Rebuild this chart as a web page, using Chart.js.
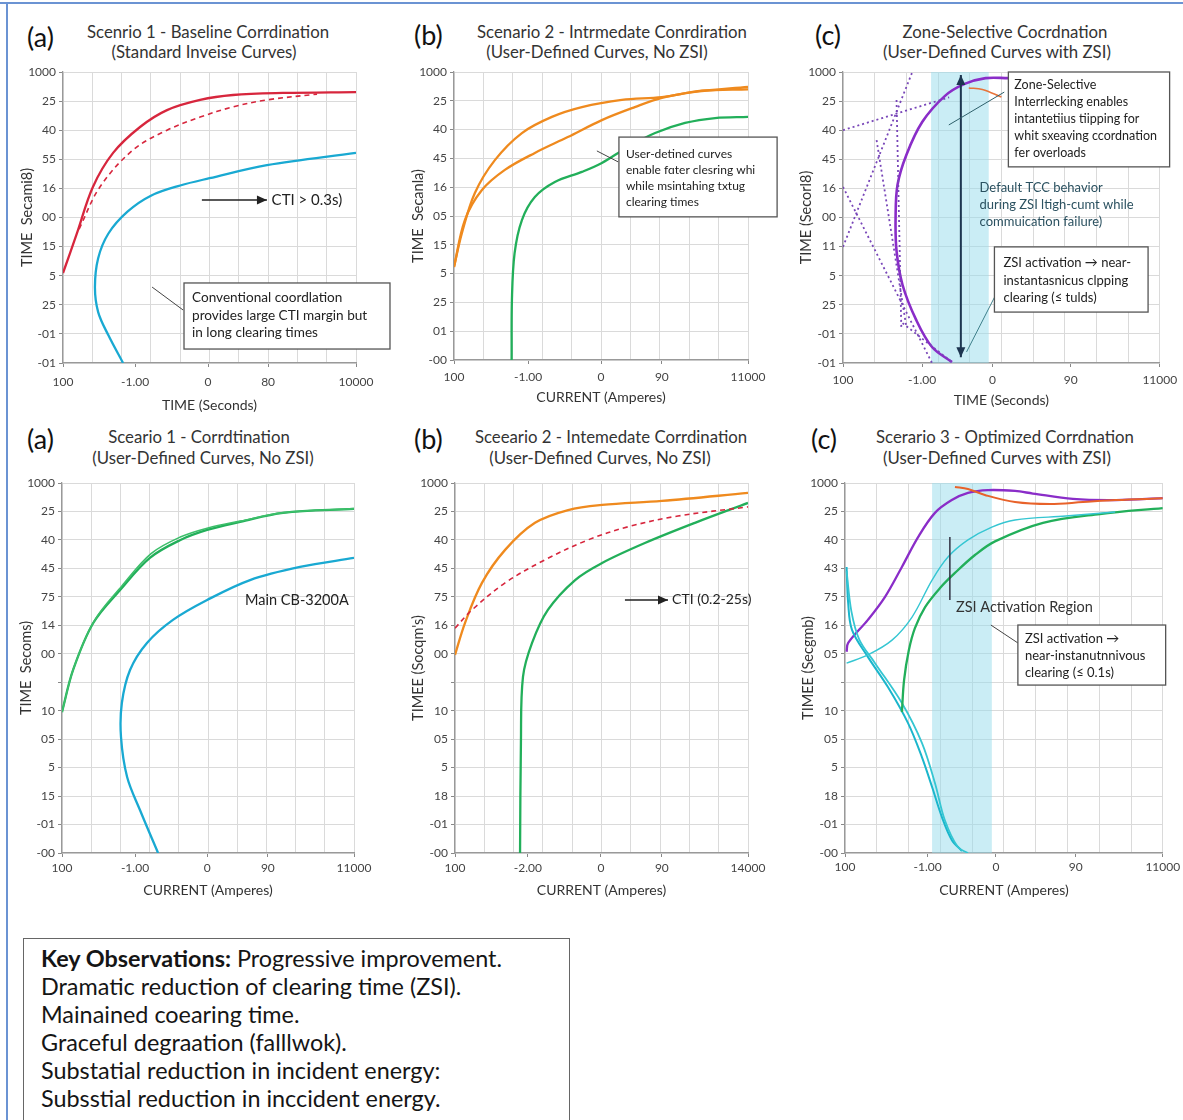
<!DOCTYPE html>
<html lang="en">
<head>
  <meta charset="UTF-8">
  <title>TCC coordination scenarios</title>
  <script src="https://cdn.jsdelivr.net/npm/chart.js"></script>
  <style>
    body { margin: 0; background: #fff; font-family: Lato, sans-serif; }
    #page { position: relative; width: 1183px; height: 1120px; overflow: hidden; background: #fff; }
    #page canvas { position: absolute; }
    .frame-top { position: absolute; left: 0; top: 2px; width: 1183px; height: 2px; background: #6b93d3; }
    .frame-left { position: absolute; left: 6px; top: 2px; width: 2px; height: 1118px; background: #6b93d3; }
    .tag { position: absolute; font-size: 27px; line-height: 30px; color: #111; }
    .ttl { position: absolute; width: 400px; height: 20px; line-height: 20px; text-align: center; font-size: 16.8px; color: #333; white-space: nowrap; }
    .keys { position: absolute; left: 23px; top: 938px; width: 528px; height: 220px; border: 1.5px solid #666;
            padding: 5px 0 0 17px; font-size: 23.4px; line-height: 28px; color: #151515; }
  </style>
</head>
<body>
<div id="page">
  <div class="frame-top"></div>
  <div class="frame-left"></div>

  <div class="tag" style="left:27px; top:22px">(a)</div>
  <div class="ttl" style="left:8px; top:22px">Scenrio 1 - Baseline Corrdination</div>
  <div class="ttl" style="left:4px; top:42px">(Standard Inveise Curves)</div>

  <div class="tag" style="left:414px; top:20px">(b)</div>
  <div class="ttl" style="left:412px; top:22px">Scenario 2 - Intrmedate Conrdiration</div>
  <div class="ttl" style="left:397px; top:42px">(User-Defined Curves, No ZSI)</div>

  <div class="tag" style="left:815px; top:20px">(c)</div>
  <div class="ttl" style="left:805px; top:22px">Zone-Selective Cocrdnation</div>
  <div class="ttl" style="left:797px; top:42px">(User-Defined Curves with ZSI)</div>

  <div class="tag" style="left:27px; top:424px">(a)</div>
  <div class="ttl" style="left:-1px; top:427px">Sceario 1 - Corrdtination</div>
  <div class="ttl" style="left:3px; top:448px">(User-Defined Curves, No ZSI)</div>

  <div class="tag" style="left:414px; top:424px">(b)</div>
  <div class="ttl" style="left:411px; top:427px">Sceeario 2 - Intemedate Corrdination</div>
  <div class="ttl" style="left:400px; top:448px">(User-Defined Curves, No ZSI)</div>

  <div class="tag" style="left:811px; top:424px">(c)</div>
  <div class="ttl" style="left:805px; top:427px">Scerario 3 - Optimized Corrdnation</div>
  <div class="ttl" style="left:797px; top:448px">(User-Defined Curves with ZSI)</div>

  <div class="keys">
    <b>Key Observations:</b> Progressive improvement.<br>
    Dramatic reduction of clearing time (ZSI).<br>
    Mainained coearing time.<br>
    Graceful degraation (falllwok).<br>
    Substatial reduction in incident energy:<br>
    Subsstial reduction in inccident energy.
  </div>
</div>

<script>
// values are in grid units: x runs 0..10 across the plot, y counts gridlines from the bottom

// (a) top - baseline coordination
const a1XTicks = [0, 2.46, 4.95, 7.0, 10];
const a1XLabels = ['100', '-1.00', '0', '80', '10000'];
const a1YLabels = ['1000', '25', '40', '55', '16', '00', '15', '5', '25', '-01', '-01'];
const a1Red = [[0, 3.09], [0.48, 4.47], [1.02, 6.05], [1.71, 7.22], [2.63, 8.11], [3.55, 8.69], [4.68, 9.04], [5.8, 9.21], [7.5, 9.28], [10, 9.31]];
const a1RedDash = [[0.55, 4.6], [1.26, 6.05], [2.39, 7.32], [3.55, 8.0], [4.68, 8.45], [5.8, 8.8], [6.96, 9.04], [8.67, 9.24]];
const a1Cyan = [[2.05, 0], [1.55, 0.95], [1.2, 1.75], [1.09, 2.6], [1.2, 3.6], [1.55, 4.45], [2.2, 5.2], [3.0, 5.75], [4.0, 6.1], [5.0, 6.35], [6.96, 6.8], [10, 7.22]];

// (b) top - intermediate coordination
const b1XTicks = [0, 2.52, 5.0, 7.07, 10];
const b1XLabels = ['100', '-1.00', '0', '90', '11000'];
const b1YLabels = ['1000', '25', '40', '45', '16', '05', '15', '5', '25', '01', '-00'];
const b1Orange1 = [[0, 3.23], [0.27, 4.41], [0.71, 5.8], [1.39, 6.94], [2.31, 7.88], [3.33, 8.44], [4.35, 8.78], [5.71, 9.03], [7.07, 9.13], [8.43, 9.35], [10, 9.4]];
const b1Orange2 = [[0, 3.23], [0.37, 4.86], [0.95, 5.9], [1.73, 6.6], [2.75, 7.19], [3.87, 7.74], [5.03, 8.33], [6.15, 8.78], [7.07, 9.1], [8.19, 9.31], [10, 9.48]];
const b1Green = [[1.96, 0], [1.97, 2.08], [2.06, 3.7], [2.31, 4.86], [2.75, 5.66], [3.43, 6.18], [4.35, 6.53], [5.03, 6.84], [5.92, 7.4], [6.84, 7.88], [7.86, 8.23], [8.88, 8.4], [10, 8.44]];

// (c) top - zone-selective coordination
const c1XTicks = [0, 2.5, 4.72, 7.19, 10];
const c1XLabels = ['100', '-1.00', '0', '90', '11000'];
const c1YLabels = ['1000', '25', '40', '45', '16', '00', '11', '5', '25', '-01', '-01'];
const c1Band = [2.78, 4.6];
const c1Purple = [[5.22, 9.79], [4.5, 9.79], [3.84, 9.59], [3.22, 9.18], [2.5, 8.28], [2.0, 7.15], [1.72, 6.12], [1.66, 4.98], [1.69, 3.85], [1.88, 2.68], [2.31, 1.48], [2.81, 0.55], [3.44, 0.03]];
const c1Orange = [[3.97, 9.45], [4.4, 9.4], [5.0, 9.14]];
const c1Dot1 = [[0, 8.0], [3.35, 9.13]];
const c1Dot2 = [[0, 3.99], [2.25, 10.17]];
const c1Dot3 = [[0, 6.05], [2.81, 0]];
const c1Dot4 = [[1.69, 9.04], [1.84, 1.24]];
const c1Dot5 = [[1.06, 7.66], [2.0, 1.24]];
const c1Dot6 = [[1.88, 1.37], [3.44, 0.03]];

// (a) bottom - coordination
const a2XTicks = [0, 2.5, 4.97, 7.05, 10];
const a2XLabels = ['100', '-1.00', '0', '90', '11000'];
const a2YLabels = ['1000', '25', '40', '45', '75', '14', '00', '', '10', '05', '5', '15', '-01', '-00'];
const a2Green1 = [[0, 4.95], [0.38, 6.43], [1.07, 8.08], [1.99, 9.24], [3.01, 10.37], [4.04, 10.99], [4.97, 11.35], [6.1, 11.63], [7.57, 11.95], [10, 12.09]];
const a2Green2 = [[0, 4.95], [0.4, 6.5], [1.1, 8.15], [2.05, 9.38], [3.05, 10.52], [4.05, 11.1], [5.0, 11.42], [6.1, 11.66], [7.6, 11.96], [10, 12.1]];
const a2Cyan = [[3.29, 0], [2.67, 1.51], [2.23, 2.67], [2.02, 4.08], [2.05, 5.27], [2.33, 6.43], [2.91, 7.38], [3.8, 8.19], [4.97, 8.89], [6.44, 9.59], [8.15, 10.05], [10, 10.37]];

// (b) bottom - intermediate coordination
const b2XTicks = [0, 2.49, 4.98, 7.06, 10];
const b2XLabels = ['100', '-2.00', '0', '90', '14000'];
const b2YLabels = ['1000', '25', '40', '45', '75', '16', '00', '', '10', '05', '5', '18', '-01', '-00'];
const b2Orange = [[0, 6.96], [0.34, 8.08], [0.92, 9.49], [1.71, 10.65], [2.73, 11.6], [3.86, 12.05], [5.02, 12.23], [7.06, 12.37], [10, 12.65]];
const b2RedDash = [[0, 7.9], [0.58, 8.54], [1.71, 9.49], [3.07, 10.3], [4.54, 11.0], [5.9, 11.46], [7.61, 11.84], [10, 12.16]];
const b2Green = [[2.22, 0], [2.25, 3.87], [2.32, 6.19], [2.63, 7.38], [3.17, 8.54], [4.1, 9.59], [5.02, 10.19], [6.48, 10.89], [8.19, 11.6], [10, 12.3]];

// (c) bottom - optimized coordination
const c2XTicks = [0, 2.6, 4.75, 7.26, 10];
const c2XLabels = ['100', '-1.00', '0', '90', '11000'];
const c2YLabels = ['1000', '25', '40', '43', '75', '16', '05', '', '10', '05', '5', '18', '-01', '-00'];
const c2Band = [2.74, 4.62];
const c2Purple = [[0.05, 7.07], [0.1, 7.38], [0.72, 8.19], [1.26, 9.0], [1.79, 10.05], [2.3, 11.1], [2.83, 11.95], [3.36, 12.4], [3.87, 12.65], [4.5, 12.75], [5.35, 12.72], [5.91, 12.63], [7.17, 12.44], [8.53, 12.4], [10, 12.47]];
const c2Orange = [[3.46, 12.86], [3.87, 12.79], [4.4, 12.58], [5.35, 12.33], [6.45, 12.26], [7.49, 12.33], [8.53, 12.4], [10, 12.46]];
const c2Green = [[1.79, 4.95], [1.86, 6.08], [2.01, 7.13], [2.2, 7.9], [2.52, 8.64], [2.99, 9.31], [3.46, 9.84], [4.09, 10.47], [4.72, 10.95], [6.23, 11.6], [8.02, 11.91], [10, 12.12]];
const c2LightCyan = [[0.05, 6.67], [0.72, 6.96], [1.48, 7.48], [2.11, 8.29], [2.74, 9.59], [3.24, 10.4], [3.87, 11.0], [4.62, 11.45], [5.35, 11.7], [6.95, 11.84], [8.5, 11.98]];
const c2Cyan1 = [[0.05, 10.05], [0.1, 8.78], [0.22, 7.84], [0.72, 6.89], [1.35, 5.83], [1.98, 4.57], [2.42, 3.37], [2.74, 2.32], [3.05, 1.26], [3.36, 0.46], [3.68, 0.07]];
const c2Cyan2 = [[0.05, 9.9], [0.2, 8.5], [0.45, 7.5], [0.94, 6.68], [1.79, 5.27], [2.42, 3.87], [2.83, 2.46], [3.14, 1.16], [3.55, 0.21], [3.87, 0]];

const RED = '#d7263d', CYAN = '#19a9d2', GREEN = '#22af5a', ORANGE = '#ef8a1e', PURPLE = '#8a2dc8';
const DOT = '#7846b8', TEAL = '#35c6d2';

const panels = [
  { box: [8, 60, 387, 360], plot: [63, 72, 356, 363], yTitleX: 27, xTickY: 382, xTitleY: 405,
    xTicks: a1XTicks, xLabels: a1XLabels, yLabels: a1YLabels, yTitle: 'TIME  Secami8)', xTitle: 'TIME (Seconds)',
    series: [
      { data: a1RedDash, color: RED, width: 1.6, dash: [5, 4] },
      { data: a1Red, color: RED, width: 2.3 },
      { data: a1Cyan, color: CYAN, width: 2.3 }
    ],
    notes: [
      { type: 'arrow', x1: 4.74, y1: 5.6, x2: 6.96, y2: 5.6, color: '#222', width: 1.5 },
      { type: 'text', x: 7.12, y: 5.6, lines: ['CTI > 0.3s)'], size: 15, color: '#222' },
      { type: 'line', x1: 3.04, y1: 2.61, x2: 4.1, y2: 1.82, color: '#444', width: 1 },
      { type: 'box', x1: 4.13, y1: 2.75, x2: 11.16, y2: 0.48, size: 13.6, padX: 8, first: 15, gap: 17.5,
        lines: ['Conventional coordlation', 'provides large CTI margin but', 'in long clearing times'] }
    ] },
  { box: [398, 60, 385, 360], plot: [454, 72, 748, 360], yTitleX: 418, xTickY: 377, xTitleY: 397,
    xTicks: b1XTicks, xLabels: b1XLabels, yLabels: b1YLabels, yTitle: 'TIME  Secanla)', xTitle: 'CURRENT (Amperes)',
    series: [
      { data: b1Green, color: GREEN, width: 2.3 },
      { data: b1Orange1, color: ORANGE, width: 2.3 },
      { data: b1Orange2, color: ORANGE, width: 2.3 }
    ],
    notes: [
      { type: 'line', x1: 4.86, y1: 7.26, x2: 5.58, y2: 6.88, color: '#444', width: 1 },
      { type: 'box', x1: 5.61, y1: 7.74, x2: 10.99, y2: 4.97, size: 12, padX: 7, first: 17, gap: 16,
        lines: ['User-detined curves', 'enable fɑter clesring whi', 'while msintahing txtug', 'clearing times'] }
    ] },
  { box: [786, 60, 397, 360], plot: [843, 72, 1163, 363], yTitleX: 806, xTickY: 380, xTitleY: 400,
    xTicks: c1XTicks, xLabels: c1XLabels, yLabels: c1YLabels, yTitle: 'TIME (Secorl8)', xTitle: 'TIME (Seconds)',
    band: c1Band,
    series: [
      { data: c1Dot1, color: DOT, width: 1.8, dash: [2, 3], tension: 0 },
      { data: c1Dot2, color: DOT, width: 1.8, dash: [2, 3], tension: 0 },
      { data: c1Dot3, color: DOT, width: 1.8, dash: [2, 3], tension: 0 },
      { data: c1Dot4, color: DOT, width: 1.8, dash: [2, 3], tension: 0 },
      { data: c1Dot5, color: DOT, width: 1.8, dash: [2, 3], tension: 0 },
      { data: c1Dot6, color: DOT, width: 1.8, dash: [2, 3], tension: 0 },
      { data: c1Orange, color: '#e8743a', width: 1.5 },
      { data: c1Purple, color: PURPLE, width: 2.6 }
    ],
    notes: [
      { type: 'arrow', x1: 3.72, y1: 0.2, x2: 3.72, y2: 9.9, color: '#1d3550', width: 2, both: true },
      { type: 'line', x1: 3.34, y1: 8.18, x2: 5.09, y2: 9.31, color: '#2d5f6a', width: 1 },
      { type: 'box', x1: 5.22, y1: 10.0, x2: 10.31, y2: 6.74, size: 12.5, padX: 6, first: 13, gap: 17,
        lines: ['Zone-Selective', 'Interrlecking enables', 'intantetiius tiipping for', 'whit sxeaving ccordnation', 'fer overloads'] },
      { type: 'text', x: 4.31, y: 6.01, gap: 17, size: 13, color: '#2b5160',
        lines: ['Default TCC behavior', 'during ZSI ltigh-cumt while', 'commuication failure)'] },
      { type: 'line', x1: 4.9, y1: 2.51, x2: 3.9, y2: 0.38, color: '#3d7f8a', width: 1 },
      { type: 'box', x1: 4.78, y1: 3.99, x2: 9.63, y2: 1.75, size: 13, padX: 9, first: 16, gap: 17.5,
        lines: ['ZSI activation \u2192 near-', 'instantasnicus clpping', 'clearing (\u2264 tulds)'] }
    ] },
  { box: [8, 470, 387, 440], plot: [62, 483, 354, 853], yTitleX: 26, xTickY: 868, xTitleY: 890,
    xTicks: a2XTicks, xLabels: a2XLabels, yLabels: a2YLabels, yTitle: 'TIME  Secoms)', xTitle: 'CURRENT (Amperes)',
    series: [
      { data: a2Green2, color: '#3cbf6a', width: 1.6 },
      { data: a2Green1, color: GREEN, width: 2.3 },
      { data: a2Cyan, color: CYAN, width: 2.3 }
    ],
    notes: [
      { type: 'text', x: 6.27, y: 8.89, lines: ['Main CB-3200A'], size: 14.5, color: '#222' }
    ] },
  { box: [398, 470, 385, 440], plot: [455, 483, 748, 853], yTitleX: 418, xTickY: 868, xTitleY: 890,
    xTicks: b2XTicks, xLabels: b2XLabels, yLabels: b2YLabels, yTitle: "TIMEE (Socqm's)", xTitle: 'CURRENT (Amperes)',
    series: [
      { data: b2RedDash, color: RED, width: 1.6, dash: [5, 4] },
      { data: b2Orange, color: ORANGE, width: 2.3 },
      { data: b2Green, color: GREEN, width: 2.3 }
    ],
    notes: [
      { type: 'arrow', x1: 5.8, y1: 8.89, x2: 7.27, y2: 8.89, color: '#222', width: 1.5 },
      { type: 'text', x: 7.41, y: 8.89, lines: ['CTI (0.2-25s)'], size: 14, color: '#222' }
    ] },
  { box: [786, 470, 397, 440], plot: [845, 483, 1163, 853], yTitleX: 808, xTickY: 867, xTitleY: 890,
    xTicks: c2XTicks, xLabels: c2XLabels, yLabels: c2YLabels, yTitle: 'TIMEE (Secgmb)', xTitle: 'CURRENT (Amperes)',
    band: c2Band,
    series: [
      { data: c2LightCyan, color: TEAL, width: 1.4 },
      { data: c2Green, color: GREEN, width: 2.3 },
      { data: c2Cyan2, color: TEAL, width: 1.8 },
      { data: c2Cyan1, color: '#1bb6cc', width: 2 },
      { data: c2Orange, color: '#e8622a', width: 2 },
      { data: c2Purple, color: PURPLE, width: 2.3 }
    ],
    notes: [
      { type: 'line', x1: 3.3, y1: 11.1, x2: 3.3, y2: 8.89, color: '#334', width: 1.5 },
      { type: 'text', x: 3.49, y: 8.64, lines: ['ZSI Activation Region'], size: 14.5, color: '#333' },
      { type: 'line', x1: 4.59, y1: 8.01, x2: 5.44, y2: 7.38, color: '#444', width: 1 },
      { type: 'box', x1: 5.44, y1: 8.01, x2: 10.09, y2: 5.9, size: 13, padX: 7, first: 14, gap: 17,
        lines: ['ZSI activation \u2192', 'near-instanutnnivous', 'clearing (\u2264 0.1s)'] }
    ] }
];

Chart.defaults.font.family = 'Lato, sans-serif';

function arrowHead(ctx, x1, y1, x2, y2, color) {
  const a = Math.atan2(y2 - y1, x2 - x1);
  ctx.fillStyle = color;
  ctx.beginPath();
  ctx.moveTo(x2, y2);
  ctx.lineTo(x2 - 10 * Math.cos(a) + 4.5 * Math.sin(a), y2 - 10 * Math.sin(a) - 4.5 * Math.cos(a));
  ctx.lineTo(x2 - 10 * Math.cos(a) - 4.5 * Math.sin(a), y2 - 10 * Math.sin(a) + 4.5 * Math.cos(a));
  ctx.closePath();
  ctx.fill();
}

function drawNotes(chart, notes) {
  const { ctx, scales: { x, y } } = chart;
  const X = v => x.getPixelForValue(v), Y = v => y.getPixelForValue(v);
  notes.forEach(n => {
    ctx.save();
    if (n.type === 'line' || n.type === 'arrow') {
      const x1 = X(n.x1), y1 = Y(n.y1), x2 = X(n.x2), y2 = Y(n.y2);
      ctx.strokeStyle = n.color;
      ctx.lineWidth = n.width;
      ctx.beginPath();
      ctx.moveTo(x1, y1);
      ctx.lineTo(x2, y2);
      ctx.stroke();
      if (n.type === 'arrow') {
        arrowHead(ctx, x1, y1, x2, y2, n.color);
        if (n.both) arrowHead(ctx, x2, y2, x1, y1, n.color);
      }
    } else if (n.type === 'text') {
      ctx.font = n.size + 'px Lato, sans-serif';
      ctx.fillStyle = n.color;
      ctx.textBaseline = 'middle';
      n.lines.forEach((s, i) => ctx.fillText(s, X(n.x), Y(n.y) + i * (n.gap || 0)));
    } else if (n.type === 'box') {
      const x1 = X(n.x1), y1 = Y(n.y1), x2 = X(n.x2), y2 = Y(n.y2);
      ctx.fillStyle = '#fff';
      ctx.fillRect(x1, y1, x2 - x1, y2 - y1);
      ctx.strokeStyle = '#555';
      ctx.lineWidth = 1.3;
      ctx.strokeRect(x1, y1, x2 - x1, y2 - y1);
      ctx.font = n.size + 'px Lato, sans-serif';
      ctx.fillStyle = '#222';
      ctx.textBaseline = 'middle';
      n.lines.forEach((s, i) => ctx.fillText(s, x1 + n.padX, y1 + n.first + i * n.gap));
    }
    ctx.restore();
  });
}

const page = document.getElementById('page');

panels.forEach(p => {
  const [cx, cy, cw, ch] = p.box;
  const [l, t, r, b] = p.plot;
  const canvas = document.createElement('canvas');
  canvas.width = cw;
  canvas.height = ch;
  canvas.style.left = cx + 'px';
  canvas.style.top = cy + 'px';
  canvas.style.width = cw + 'px';
  canvas.style.height = ch + 'px';
  page.appendChild(canvas);

  const half = 14 * 1.2 / 2;
  const padL = p.yTitleX - half - cx;
  const yW = l - cx - padL;
  const xH = p.xTitleY + half - b;
  const padB = cy + ch - b - xH;
  const tickPad = p.xTickY - b - 4 - 12 * 1.2 / 2;
  const nY = p.yLabels.length - 1;
  const xAll = [...new Set([0, 1, 2, 3, 4, 5, 6, 7, 8, 9, 10, ...p.xTicks])].sort((m, n) => m - n);
  const isLabel = v => p.xTicks.some(k => Math.abs(k - v) < 1e-9);
  const isGrid = v => Math.abs(v - Math.round(v)) < 1e-9;

  new Chart(canvas, {
    type: 'scatter',
    data: {
      datasets: p.series.map(s => ({
        data: s.data.map(([x, y]) => ({ x, y })),
        showLine: true,
        borderColor: s.color,
        borderWidth: s.width,
        borderDash: s.dash || [],
        pointRadius: 0,
        tension: s.tension ?? 0.35,
        fill: false
      }))
    },
    options: {
      responsive: false,
      animation: false,
      devicePixelRatio: 1,
      layout: { padding: { left: padL, top: t - cy, right: cx + cw - r, bottom: padB } },
      plugins: { legend: { display: false }, tooltip: { enabled: false } },
      scales: {
        x: {
          type: 'linear', min: 0, max: 10,
          afterBuildTicks: s => { s.ticks = xAll.map(v => ({ value: v })); },
          afterFit: s => { s.height = xH; },
          ticks: {
            autoSkip: false, maxRotation: 0, minRotation: 0, padding: tickPad,
            font: { size: 12 }, color: '#444',
            callback: v => { const i = p.xTicks.findIndex(k => Math.abs(k - v) < 1e-9); return i < 0 ? '' : p.xLabels[i]; }
          },
          grid: {
            color: c => (c.tick && isGrid(c.tick.value)) ? '#dadada' : 'rgba(0,0,0,0)',
            tickColor: c => (c.tick && isLabel(c.tick.value)) ? '#888' : 'rgba(0,0,0,0)',
            tickLength: 4
          },
          border: { color: '#999', width: 1.3 },
          title: { display: true, text: p.xTitle, font: { size: 14 }, color: '#333', padding: { top: 0, bottom: 0 } }
        },
        y: {
          type: 'linear', min: 0, max: nY,
          afterFit: s => { s.width = yW; },
          ticks: { stepSize: 1, autoSkip: false, padding: 3, font: { size: 12 }, color: '#444',
                   callback: v => p.yLabels[nY - v] ?? '' },
          grid: { color: '#dadada', tickColor: '#888', tickLength: 4 },
          border: { color: '#999', width: 1.3 },
          title: { display: true, text: p.yTitle, font: { size: 14.5 }, color: '#333', padding: { top: 0, bottom: 0 } }
        }
      }
    },
    plugins: [{
      id: 'extras',
      beforeDatasetsDraw(chart) {
        if (!p.band) return;
        const { ctx, chartArea: a, scales: { x } } = chart;
        const x1 = x.getPixelForValue(p.band[0]), x2 = x.getPixelForValue(p.band[1]);
        ctx.save();
        ctx.fillStyle = 'rgba(150, 220, 235, 0.5)';
        ctx.fillRect(x1, a.top, x2 - x1, a.bottom - a.top);
        ctx.restore();
      },
      afterDatasetsDraw(chart) {
        drawNotes(chart, p.notes || []);
      }
    }]
  });
});
</script>
</body>
</html>
